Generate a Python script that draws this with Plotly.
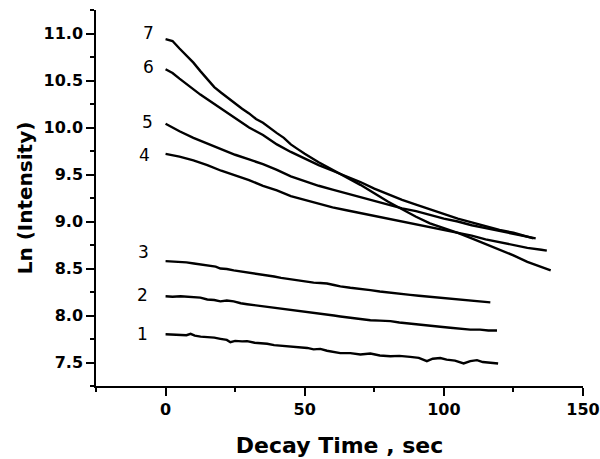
import plotly.graph_objects as go

# ---- data ----
c1_x = [0, 2.5, 5, 7.5, 9, 10.5, 12.6, 15, 17.5, 19.7, 22, 23.3, 25, 27.5, 29.3, 32, 34, 36.5, 39, 41.5,
        43.7, 46, 48.5, 50.9, 53.2, 55.6, 58, 60.5, 62.8, 66.4, 70, 73.6, 77, 80.8, 84, 87.9, 91, 93.9, 96,
        98.7, 101, 104, 107.1, 109.5, 111.9, 114, 116.7, 119.5]
c1_y = [7.80, 7.795, 7.79, 7.79, 7.805, 7.785, 7.775, 7.77, 7.765, 7.752, 7.74, 7.716, 7.73, 7.725, 7.727,
        7.71, 7.705, 7.70, 7.685, 7.68, 7.67, 7.665, 7.66, 7.655, 7.64, 7.645, 7.625, 7.615, 7.60, 7.60,
        7.585, 7.595, 7.575, 7.567, 7.57, 7.56, 7.55, 7.515, 7.54, 7.547, 7.53, 7.52, 7.49, 7.515, 7.525,
        7.505, 7.50, 7.49]

c2_x = [0, 2.5, 5.4, 7.5, 10.2, 12.5, 15, 17.5, 19.7, 22, 24.5, 27, 29.3, 32, 34.1, 36.5, 38.9, 41.5, 43.7,
        46.1, 48.5, 50.9, 53.2, 55.6, 58, 60.5, 62.8, 66.4, 70, 73.6, 77, 80.8, 84, 87.9, 91, 95.1, 98.7,
        102.3, 106, 109.5, 113, 116, 119.1]
c2_y = [8.205, 8.20, 8.205, 8.20, 8.20, 8.19, 8.17, 8.165, 8.15, 8.16, 8.15, 8.13, 8.12, 8.11, 8.10, 8.09,
        8.08, 8.075, 8.065, 8.06, 8.045, 8.04, 8.03, 8.02, 8.01, 8.00, 7.99, 7.975, 7.965, 7.95, 7.945,
        7.94, 7.925, 7.915, 7.905, 7.89, 7.88, 7.87, 7.86, 7.85, 7.85, 7.84, 7.84]

c3_x = [0, 2.5, 5.4, 7.5, 10.2, 12.5, 16.2, 18, 19.7, 22, 24.5, 27, 29.3, 32, 34, 36.5, 39, 41.5, 43.7, 46,
        48.5, 50.9, 53.2, 55.6, 58, 60.5, 62.8, 66.4, 70, 73.6, 77, 80.8, 84, 87.9, 91, 95.1, 98.7, 102.3,
        106, 109.5, 113, 116.7]
c3_y = [8.578, 8.575, 8.568, 8.565, 8.553, 8.545, 8.53, 8.52, 8.50, 8.495, 8.48, 8.47, 8.455, 8.445, 8.44,
        8.43, 8.415, 8.40, 8.39, 8.375, 8.365, 8.355, 8.35, 8.345, 8.34, 8.325, 8.31, 8.295, 8.285, 8.27,
        8.255, 8.24, 8.23, 8.22, 8.21, 8.20, 8.19, 8.18, 8.17, 8.16, 8.15, 8.14]

c4_x = [0, 5, 10, 15, 20, 25, 30, 35, 40, 45, 50, 55, 60, 65, 70, 75, 80, 85, 90, 95, 100, 105, 110, 115,
        120, 125, 130, 135, 137]
c4_y = [9.72, 9.69, 9.65, 9.60, 9.54, 9.49, 9.44, 9.38, 9.33, 9.27, 9.23, 9.19, 9.15, 9.12, 9.09, 9.06,
        9.03, 9.00, 8.97, 8.94, 8.91, 8.88, 8.85, 8.81, 8.78, 8.75, 8.72, 8.70, 8.69]

c5_x = [0, 5, 10, 15, 20, 25, 30, 35, 40, 45, 50, 55, 60, 65, 70, 75, 80, 85, 90, 95, 100, 105, 110, 115,
        120, 125, 130, 133]
c5_y = [10.04, 9.96, 9.89, 9.83, 9.77, 9.71, 9.66, 9.61, 9.55, 9.48, 9.43, 9.38, 9.34, 9.30, 9.26, 9.22,
        9.18, 9.14, 9.11, 9.07, 9.03, 9.00, 8.96, 8.93, 8.90, 8.87, 8.84, 8.82]

c6_x = [0, 2.5, 5, 7.5, 10, 12.5, 15, 17.5, 20, 22.5, 25, 27.5, 30, 32.5, 35, 37.5, 40, 45, 50, 55, 60, 65,
        70, 75, 80, 85, 90, 95, 100, 105, 110, 115, 120, 125, 130, 132.2]
c6_y = [10.62, 10.58, 10.52, 10.46, 10.40, 10.35, 10.30, 10.25, 10.20, 10.15, 10.10, 10.05, 10.00, 9.96,
        9.92, 9.87, 9.82, 9.74, 9.67, 9.60, 9.54, 9.48, 9.42, 9.35, 9.29, 9.23, 9.18, 9.13, 9.08, 9.03,
        8.99, 8.95, 8.91, 8.88, 8.84, 8.82]

c7_x = [0, 2.5, 5, 7.5, 10, 12.5, 15, 17.5, 20, 22.5, 25, 27.5, 30, 32.5, 35, 37.5, 40, 42.5, 45, 47.5, 50,
        55, 60, 65, 70, 75, 80, 85, 90, 95, 100, 105, 110, 115, 120, 125, 130, 135, 138.4]
c7_y = [10.94, 10.92, 10.84, 10.77, 10.69, 10.60, 10.52, 10.43, 10.37, 10.31, 10.26, 10.20, 10.15, 10.09,
        10.05, 9.99, 9.94, 9.89, 9.82, 9.77, 9.72, 9.63, 9.55, 9.47, 9.39, 9.30, 9.21, 9.13, 9.05, 8.98,
        8.93, 8.88, 8.82, 8.76, 8.70, 8.64, 8.57, 8.52, 8.48]

labels = ["1", "2", "3", "4", "5", "6", "7"]
label_x = [-8.3, -8.3, -7.9, -7.5, -6.5, -6.1, -6.1]
label_y = [7.80, 8.22, 8.68, 9.71, 10.06, 10.64, 11.01]

series = [(c1_x, c1_y), (c2_x, c2_y), (c3_x, c3_y), (c4_x, c4_y),
          (c5_x, c5_y), (c6_x, c6_y), (c7_x, c7_y)]

fig = go.Figure()
for (xs, ys), name in zip(series, labels):
    fig.add_trace(go.Scatter(x=xs, y=ys, mode="lines", name=name,
                             line=dict(color="black", width=2.4), showlegend=False))

for t, lx, ly in zip(labels, label_x, label_y):
    fig.add_annotation(x=lx, y=ly, text=t, showarrow=False, xanchor="center", yanchor="middle",
                       font=dict(family="DejaVu Sans", size=17, color="black"))

axis_font = dict(family="DejaVu Sans", size=16, color="black", weight="bold")
fig.update_xaxes(range=[-25, 150], tick0=0, dtick=50, ticks="outside", ticklen=8, tickwidth=1.5,
                 tickcolor="black", showline=True, linecolor="black", linewidth=1.5, showgrid=False,
                 zeroline=False, tickfont=axis_font,
                 minor=dict(dtick=25, tick0=0, ticks="outside", ticklen=4, tickwidth=1.5, tickcolor="black"),
                 title=dict(text="Decay Time , sec", standoff=20,
                            font=dict(family="DejaVu Sans", size=22, color="black", weight="bold")))
fig.update_yaxes(range=[7.25, 11.25], tick0=7.5, dtick=0.5, tickformat=".1f", ticks="outside", ticklen=8,
                 tickwidth=1.5, tickcolor="black", showline=True, linecolor="black", linewidth=1.5,
                 showgrid=False, zeroline=False, tickfont=axis_font,
                 minor=dict(dtick=0.25, tick0=7.25, ticks="outside", ticklen=4, tickwidth=1.5, tickcolor="black"),
                 title=dict(text="Ln (Intensity)", standoff=6,
                            font=dict(family="DejaVu Sans", size=20, color="black", weight="bold")))

fig.update_layout(width=600, height=459, margin=dict(l=96, r=17, t=10, b=73, autoexpand=False),
                  plot_bgcolor="white", paper_bgcolor="white")

fig.write_html("out.html", config={"displayModeBar": False},
               post_script="document.body.style.margin='0';document.body.style.overflow='hidden';")
